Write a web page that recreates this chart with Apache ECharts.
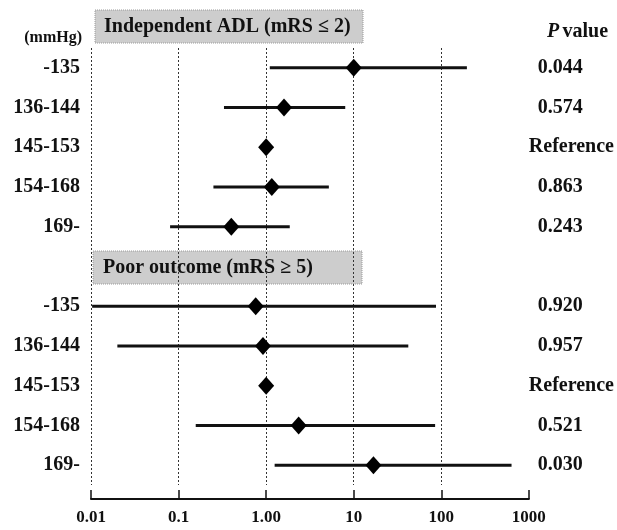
<!DOCTYPE html>
<html>
<head>
<meta charset="utf-8">
<script src="https://cdn.jsdelivr.net/npm/echarts@6/dist/echarts.min.js"></script>
<style>html,body{margin:0;padding:0;background:#fff;}#c{width:617px;height:530px;}</style>
</head>
<body>
<div id="c"></div>
<script>
const rowLabels = ['-135','136-144','145-153','154-168','169-','','-135','136-144','145-153','154-168','169-'];
const pValues = ['0.044','0.574','Reference','0.863','0.243','','0.920','0.957','Reference','0.521','0.030'];
const oddsRatio = [10.0, 1.6, 1.0, 1.16, 0.40, null, 0.76, 0.92, 1.0, 2.35, 16.8];
const ciLower = [1.1, 0.33, null, 0.25, 0.080, null, 0.0103, 0.020, null, 0.157, 1.25];
const ciUpper = [196, 8.0, null, 5.2, 1.86, null, 87, 42, null, 85, 634];
const tickLabels = ['0.01','0.1','1.00','10','100','1000'];
const sectionTitles = ['Independent ADL (mRS \u2264 2)', 'Poor outcome (mRS \u2265 5)'];

const FONT = '"Liberation Serif","Times New Roman",serif';
const INK = '#111';

const ciData = [];
const pointData = [];
rowLabels.forEach((r, i) => {
  if (ciLower[i] != null && ciUpper[i] != null) ciData.push([ciLower[i], ciUpper[i], i]);
  if (oddsRatio[i] != null) pointData.push([oddsRatio[i], i]);
});

const chart = echarts.init(document.getElementById('c'), null, {renderer: 'canvas'});
chart.setOption({
  backgroundColor: '#fff',
  animation: false,
  grid: {left: 91, right: 85, top: 48, height: 437},
  xAxis: {
    type: 'log', logBase: 10, min: 0.01, max: 1000,
    offset: 14,
    axisLine: {show: true, lineStyle: {color: INK, width: 2}},
    axisTick: {show: true, inside: true, length: 9, lineStyle: {color: INK, width: 1.5}},
    axisLabel: {
      margin: 10,
      fontFamily: FONT, fontWeight: 'bold', fontSize: 17, color: INK,
      formatter: v => tickLabels[Math.round(Math.log10(v)) + 2]
    },
    splitLine: {show: true, showMinLine: true, showMaxLine: false,
      lineStyle: {color: '#333', width: 1, type: [2, 2]}},
    minorTick: {show: false}
  },
  yAxis: [{
    type: 'category', data: rowLabels, inverse: true,
    axisLine: {show: false}, axisTick: {show: false}, splitLine: {show: false},
    axisLabel: {margin: 11, fontFamily: FONT, fontWeight: 'bold', fontSize: 20, color: INK}
  }, {
    type: 'category', data: pValues, inverse: true, position: 'right',
    axisLine: {show: false}, axisTick: {show: false}, splitLine: {show: false},
    axisLabel: {
      margin: 0, align: 'left', fontFamily: FONT, fontWeight: 'bold', fontSize: 20, color: INK,
      formatter: v => v === 'Reference' ? '{r|' + v + '}' : '{n|' + v + '}',
      rich: {
        r: {fontFamily: FONT, fontWeight: 'bold', fontSize: 20, color: INK},
        n: {fontFamily: FONT, fontWeight: 'bold', fontSize: 20, color: INK, padding: [0, 0, 0, 9]}
      }
    }
  }],
  series: [{
    type: 'custom',
    data: ciData,
    encode: {x: [0, 1], y: 2},
    renderItem: function (params, api) {
      const a = api.coord([api.value(0), api.value(2)]);
      const b = api.coord([api.value(1), api.value(2)]);
      return {type: 'line', shape: {x1: a[0], y1: a[1], x2: b[0], y2: b[1]},
        style: {stroke: INK, lineWidth: 3}};
    },
    silent: true,
    z: 3
  }, {
    type: 'scatter',
    data: pointData,
    symbol: 'diamond',
    symbolSize: [16, 18],
    itemStyle: {color: '#000', opacity: 1},
    emphasis: {disabled: true},
    silent: true,
    z: 4
  }],
  graphic: [
    {type: 'group', z: 100, children: [
      {type: 'rect', shape: {x: 95, y: 10, width: 268, height: 33},
        style: {fill: '#cdcdcd', stroke: '#9a9a9a', lineWidth: 1, lineDash: [1, 1]}},
      {type: 'text', x: 104, y: 27, style: {text: sectionTitles[0], font: 'bold 20px ' + FONT,
        fill: INK, verticalAlign: 'middle', textAlign: 'left'}}
    ]},
    {type: 'group', z: 100, children: [
      {type: 'rect', shape: {x: 93, y: 251, width: 269, height: 33},
        style: {fill: '#cdcdcd', stroke: '#9a9a9a', lineWidth: 1, lineDash: [1, 1]}},
      {type: 'text', x: 103, y: 268, style: {text: sectionTitles[1], font: 'bold 20px ' + FONT,
        fill: INK, verticalAlign: 'middle', textAlign: 'left'}}
    ]},
    {type: 'text', z: 100, x: 82, y: 38, style: {text: '(mmHg)', font: 'bold 16px ' + FONT,
      fill: INK, verticalAlign: 'middle', textAlign: 'right'}},
    {type: 'text', z: 100, x: 547, y: 32, style: {
      text: '{i|P} {b|value}', verticalAlign: 'middle', textAlign: 'left',
      rich: {
        i: {fontFamily: FONT, fontStyle: 'italic', fontWeight: 'bold', fontSize: 20, fill: INK, color: INK},
        b: {fontFamily: FONT, fontWeight: 'bold', fontSize: 20, fill: INK, color: INK}
      }}}
  ]
});
</script>
</body>
</html>
